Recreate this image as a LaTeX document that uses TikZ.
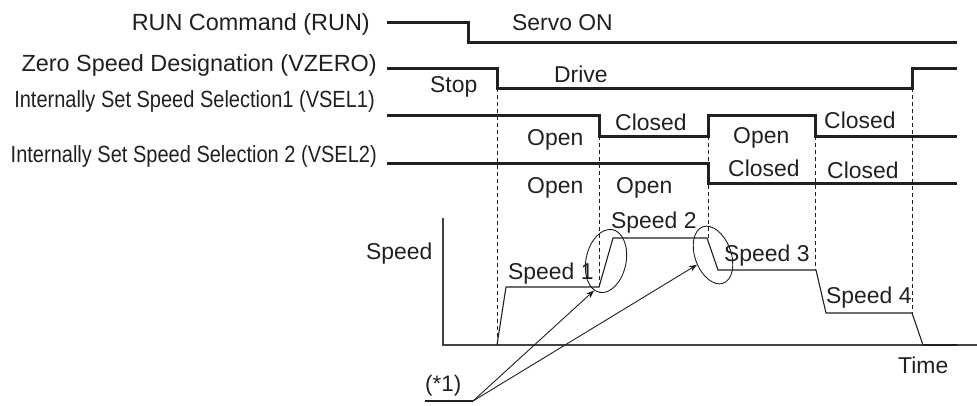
\documentclass[tikz,border=0pt]{standalone}
\usepackage{fontspec}
\setmainfont{Liberation Sans}
\newfontfamily\narrowfont[FakeStretch=0.855]{Liberation Sans}
\usetikzlibrary{arrows.meta,shapes.geometric}
\definecolor{ink}{HTML}{231F20}

\begin{document}
\begin{tikzpicture}[
  x=1bp,y=-1bp,
  every node/.style={inner sep=0pt,text=ink,font=\fontsize{23}{26}\selectfont},
  sigtext/.style={anchor=base east,font=\fontsize{23.5}{26}\selectfont},
  sigtextn/.style={anchor=base east,font=\narrowfont\fontsize{23.5}{26}\selectfont},
  statetext/.style={anchor=base west},
  signal/.style={ink,line width=3bp},
  guide/.style={ink,line width=.8bp,dash pattern=on 4bp off 3bp},
  trace/.style={ink,line width=1.1bp},
  ring/.style={draw=ink,ellipse,line width=.9bp},
  pointer/.style={ink,line width=.9bp,-{Stealth[length=8bp,width=6bp]}}
]
  \useasboundingbox (0,0) rectangle (977,405);

  \node[sigtext] (run) at (370,30) {RUN Command (RUN)};
  \node[sigtext] (vzero) at (377,71) {Zero Speed Designation (VZERO)};
  \node[sigtextn] (vsel1) at (375,107) {Internally Set Speed Selection1 (VSEL1)};
  \node[sigtextn] (vsel2) at (377,162) {Internally Set Speed Selection 2 (VSEL2)};

  \draw[signal] (387,22) -- (468,22) -- (468,42) -- (957,42);
  \draw[signal] (387,68) -- (497,68) -- (497,88) -- (912,88) -- (912,68) -- (957,68);
  \draw[signal] (387,115) -- (599,115) -- (599,136) -- (708,136) -- (708,115)
    -- (815,115) -- (815,136) -- (957,136);
  \draw[signal] (387,163) -- (708,163) -- (708,183) -- (957,183);

  \node[statetext] (servo) at (512,30) {Servo ON};
  \node[statetext] (stop) at (430,92) {Stop};
  \node[statetext] (drive) at (554,82) {Drive};
  \node[statetext] (open1) at (527,145) {Open};
  \node[statetext] (closed1) at (615,130) {Closed};
  \node[statetext] (open2) at (733,143) {Open};
  \node[statetext] (closed2) at (824,128) {Closed};
  \node[statetext] (open3) at (527,193) {Open};
  \node[statetext] (open4) at (616,193) {Open};
  \node[statetext] (closed3) at (728,176) {Closed};
  \node[statetext] (closed4) at (827,178) {Closed};

  \draw[guide] (497,88) -- (497,345);
  \draw[guide] (599,136) -- (599,287);
  \draw[guide] (708,136) -- (708,238);
  \draw[guide] (815,136) -- (815,270);
  \draw[guide] (912,88) -- (912,313);

  \draw[ink!85,line width=1.3bp] (443,218) -- (443,345) -- (977,345);
  \draw[trace] (497,345) -- (506,287) -- (599,287) -- (613,238) -- (707,238)
    -- (718,270) -- (816,270) -- (826,313) -- (912,313) -- (923,345);
  \draw[ink,line width=2.2bp] (923,345) -- (957,345);

  \node[statetext] (speed) at (366,259) {Speed};
  \node[statetext] (time) at (898,373) {Time};
  \node[statetext] (speed1) at (508,279) {Speed 1};
  \node[statetext] (speed2) at (611,228) {Speed 2};
  \node[statetext] (speed3) at (724,261) {Speed 3};
  \node[statetext] (speed4) at (826,303) {Speed 4};

  \node[ring,minimum width=40bp,minimum height=64bp,rotate=-12] (ring1) at (606,261) {};
  \node[ring,minimum width=36bp,minimum height=60bp,rotate=20] (ring2) at (713,255) {};

  \node[statetext,font=\fontsize{22.5}{24}\selectfont] (note) at (425,391) {(*1)};
  \coordinate (tail) at (473,401);
  \draw[trace] (425,401) -- (tail);
  \draw[pointer] (tail) -- (ring1.260);
  \draw[pointer] (tail) -- (ring2);
\end{tikzpicture}
\end{document}
